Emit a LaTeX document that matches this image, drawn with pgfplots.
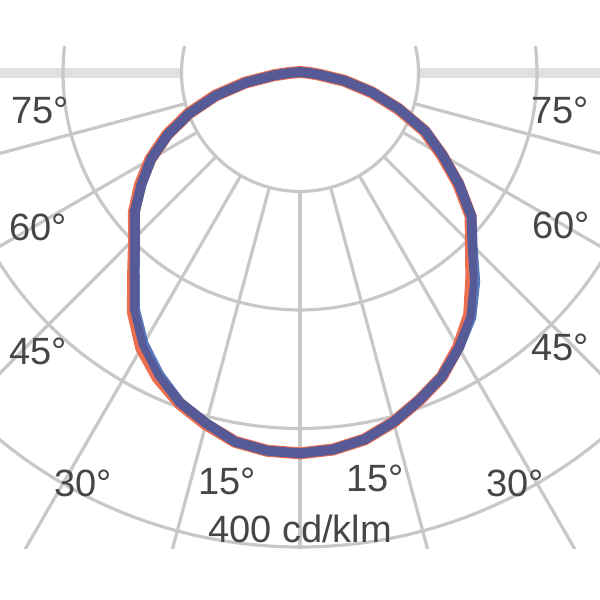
\documentclass[border=0pt]{standalone}
\usepackage{pgfplots}
\pgfplotsset{compat=1.18}
\usepackage{fontspec}
\setmainfont{Liberation Sans}
\definecolor{gridgray}{RGB}{200,200,200}
\definecolor{axisgray}{RGB}{224,224,224}
\definecolor{cplaneA}{RGB}{235,110,80}
\definecolor{cplaneB}{RGB}{45,85,170}
\definecolor{labelgray}{RGB}{70,70,70}

\begin{document}
\begin{tikzpicture}
\path[use as bounding box] (0,-25.5pt) rectangle (300pt,274.5pt);
\begin{axis}[
  at={(0,0)}, anchor=south west,
  width=300pt, height=251pt, scale only axis,
  xmin=-253.2, xmax=253.2, ymin=-401.7, ymax=21.9,
  hide axis, clip=true,
]
% polar grid: circles every 100 cd/klm, rays every 15 degrees
\draw[axisgray, line width=5pt] (axis cs:-100,0) -- (axis cs:-700,0);
\draw[axisgray, line width=5pt] (axis cs:100,0) -- (axis cs:700,0);
\draw[gridgray, line width=1.6pt] (axis cs:0,0) circle[radius=100];
\draw[gridgray, line width=1.6pt] (axis cs:0,0) circle[radius=200];
\draw[gridgray, line width=1.6pt] (axis cs:0,0) circle[radius=300];
\draw[gridgray, line width=1.6pt] (axis cs:0,0) circle[radius=400];
\draw[gridgray, line width=1.6pt] (axis cs:0,0) circle[radius=500];
\draw[gridgray, line width=1.6pt] (axis cs:0,-100) -- (axis cs:0,-700);
\pgfplotsinvokeforeach{15,30,45,60,75}{
  \draw[gridgray, line width=1.6pt] (axis cs:{100*sin(#1)},{-100*cos(#1)}) -- (axis cs:{700*sin(#1)},{-700*cos(#1)});
  \draw[gridgray, line width=1.6pt] (axis cs:{-100*sin(#1)},{-100*cos(#1)}) -- (axis cs:{-700*sin(#1)},{-700*cos(#1)});
}

% C0-C180
\addplot[cplaneA, line width=6pt, line join=round, line cap=round, data cs=polar] coordinates {
  (90,1) (135,1) (170,3) (180,9) (185,22) (190,47) (195,74) (200,100)
  (205,124) (210,146) (215,165) (220,183) (225,198) (230,219) (235,246)
  (240,268) (245,284) (250,297) (255,307) (260,316) (265,320) (270,321)
  (275,319) (280,314) (285,305) (290,294) (295,283) (300,267) (305,249)
  (310,225) (315,204) (320,188) (325,163) (330,138) (335,116) (340,88)
  (345,62) (350,38) (355,16) (360,8) (370,3) (405,1) (450,1)
};
% C90-C270
\addplot[cplaneB, line width=5pt, line join=round, line cap=round, opacity=0.78, data cs=polar] coordinates {
  (90,1) (135,1) (170,3) (180,9) (185,21) (190,46) (195,73) (200,99)
  (205,123) (210,145) (215,163) (220,182) (225,197) (230,217) (235,243)
  (240,264) (245,281) (250,296) (255,306) (260,316) (265,320) (270,321)
  (275,319) (280,314) (285,305) (290,294) (295,283) (300,268) (305,252)
  (310,230) (315,206) (320,189) (325,164) (330,139) (335,117) (340,89)
  (345,63) (350,38) (355,16) (360,8) (370,3) (405,1) (450,1)
};

% labels
\begin{scope}[every node/.style={text=labelgray, font=\fontsize{19}{22}\selectfont, inner sep=0pt}]
\node at (axis cs:-219.4,-31.2) {75°};
\node at (axis cs:-221.1,-130) {60°};
\node at (axis cs:-221.1,-235) {45°};
\node at (axis cs:-183.1,-346) {30°};
\node at (axis cs:-61.6,-345) {15°};
\node at (axis cs:219.4,-31.2) {75°};
\node at (axis cs:220.3,-129) {60°};
\node at (axis cs:219.4,-232) {45°};
\node at (axis cs:181.4,-346) {30°};
\node at (axis cs:63.3,-342) {15°};
\node at (axis cs:0,-385) {400 cd/klm};
\end{scope}
\end{axis}
\end{tikzpicture}
\end{document}
